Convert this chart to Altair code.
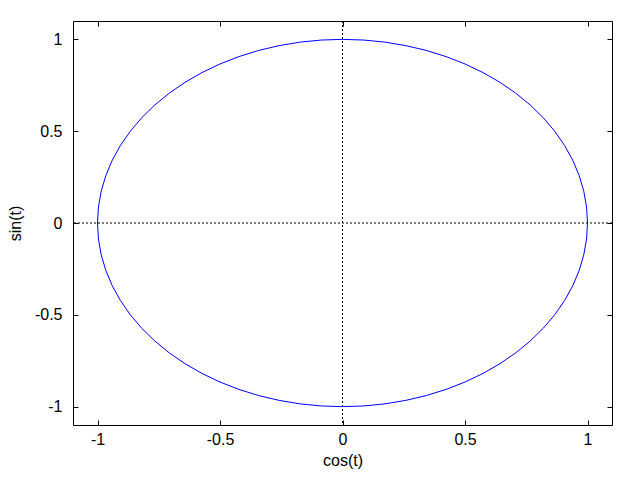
import altair as alt
import pandas as pd

# parametric samples of the curve (t every 5 degrees)
cos_t = [1.0000, 0.9962, 0.9848, 0.9659, 0.9397, 0.9063, 0.8660, 0.8192, 0.7660, 0.7071,
         0.6428, 0.5736, 0.5000, 0.4226, 0.3420, 0.2588, 0.1736, 0.0872, 0.0000,
         -0.0872, -0.1736, -0.2588, -0.3420, -0.4226, -0.5000, -0.5736, -0.6428, -0.7071,
         -0.7660, -0.8192, -0.8660, -0.9063, -0.9397, -0.9659, -0.9848, -0.9962, -1.0000,
         -0.9962, -0.9848, -0.9659, -0.9397, -0.9063, -0.8660, -0.8192, -0.7660, -0.7071,
         -0.6428, -0.5736, -0.5000, -0.4226, -0.3420, -0.2588, -0.1736, -0.0872, 0.0000,
         0.0872, 0.1736, 0.2588, 0.3420, 0.4226, 0.5000, 0.5736, 0.6428, 0.7071,
         0.7660, 0.8192, 0.8660, 0.9063, 0.9397, 0.9659, 0.9848, 0.9962, 1.0000]
sin_t = [0.0000, 0.0872, 0.1736, 0.2588, 0.3420, 0.4226, 0.5000, 0.5736, 0.6428, 0.7071,
         0.7660, 0.8192, 0.8660, 0.9063, 0.9397, 0.9659, 0.9848, 0.9962, 1.0000,
         0.9962, 0.9848, 0.9659, 0.9397, 0.9063, 0.8660, 0.8192, 0.7660, 0.7071,
         0.6428, 0.5736, 0.5000, 0.4226, 0.3420, 0.2588, 0.1736, 0.0872, 0.0000,
         -0.0872, -0.1736, -0.2588, -0.3420, -0.4226, -0.5000, -0.5736, -0.6428, -0.7071,
         -0.7660, -0.8192, -0.8660, -0.9063, -0.9397, -0.9659, -0.9848, -0.9962, -1.0000,
         -0.9962, -0.9848, -0.9659, -0.9397, -0.9063, -0.8660, -0.8192, -0.7660, -0.7071,
         -0.6428, -0.5736, -0.5000, -0.4226, -0.3420, -0.2588, -0.1736, -0.0872, 0.0000]
x_ticks = [-1, -0.5, 0, 0.5, 1]
y_ticks = [-1, -0.5, 0, 0.5, 1]
zero = [0]

df = pd.DataFrame({"i": list(range(len(cos_t))), "x": cos_t, "y": sin_t})
zdf = pd.DataFrame({"z": zero})

xs = alt.Scale(domain=[-1.1, 1.1], nice=False)
ys = alt.Scale(domain=[-1.1, 1.1], nice=False)

FONT = "Liberation Sans"
common = dict(grid=False, domain=False, ticks=True, tickSize=5, tickColor="black",
              tickWidth=1, offset=-5, labelFont=FONT, labelFontSize=16,
              labelColor="black", titleFont=FONT, titleFontSize=16,
              titleColor="black", titleFontWeight="normal",
              labelExpr="toString(datum.value)")

vline = alt.Chart(zdf).mark_rule(color="black", strokeDash=[2, 2], strokeWidth=1).encode(
    x=alt.X("z:Q", scale=xs,
            axis=alt.Axis(orient="top", labels=False, title=None, values=x_ticks, **common))
)
hline = alt.Chart(zdf).mark_rule(color="black", strokeDash=[2, 2], strokeWidth=1).encode(
    y=alt.Y("z:Q", scale=ys,
            axis=alt.Axis(orient="right", labels=False, title=None, values=y_ticks, **common))
)
circle = alt.Chart(df).mark_line(color="#0000ff", strokeWidth=1).encode(
    x=alt.X("x:Q", scale=xs,
            axis=alt.Axis(orient="bottom", title="cos(t)", values=x_ticks,
                          labelPadding=6, titlePadding=5, **common)),
    y=alt.Y("y:Q", scale=ys,
            axis=alt.Axis(orient="left", title="sin(t)", values=y_ticks,
                          labelPadding=11, titlePadding=11, **common)),
    order="i:Q",
)

chart = (
    alt.layer(vline, hline, circle)
    .resolve_axis(x="independent", y="independent")
    .properties(width=539, height=404, autosize="none",
                padding={"left": 65, "top": 13, "right": 20, "bottom": 55})
    .configure_view(stroke="black", strokeWidth=1)
)

chart.save("out.html", embed_options={"renderer": "svg", "actions": False})
